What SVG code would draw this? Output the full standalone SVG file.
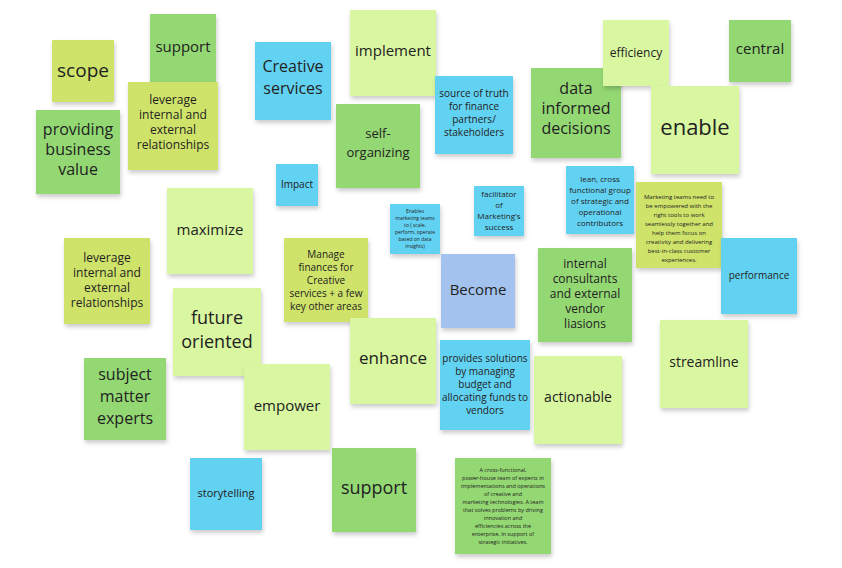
<svg xmlns="http://www.w3.org/2000/svg" width="842" height="568" viewBox="0 0 842 568">
<style>
text{font-family:"Open Sans","Liberation Sans",sans-serif;fill:#222;text-anchor:middle}
.l{fill:#cfe36b}.g{fill:#94d873}.p{fill:#d9f7a0}.b{fill:#62d2f2}.v{fill:#a3c3ee}
rect{filter:url(#sh)}
</style>
<defs><filter id="sh" x="-10%" y="-10%" width="125%" height="130%"><feDropShadow dx="1" dy="3" stdDeviation="2" flood-color="#000" flood-opacity="0.2"/></filter></defs>
<rect width="842" height="568" fill="#fff" style="filter:none"/>
<g id="n1"><rect class="l" x="52" y="40" width="62" height="62"/><text x="83" y="77" font-size="19">scope</text></g>
<g id="n2"><rect class="g" x="150" y="14" width="66" height="68"/><text x="183" y="52" font-size="15">support</text></g>
<g id="n3"><rect class="l" x="128" y="82" width="90" height="88"/><text font-size="12"><tspan x="173" y="104">leverage</tspan><tspan x="173" y="119">internal and</tspan><tspan x="173" y="134">external</tspan><tspan x="173" y="149">relationships</tspan></text></g>
<g id="n4"><rect class="g" x="36" y="110" width="84" height="84"/><text font-size="16"><tspan x="78" y="135">providing</tspan><tspan x="78" y="155">business</tspan><tspan x="78" y="175">value</tspan></text></g>
<g id="n5"><rect class="b" x="255" y="42" width="76" height="78"/><text font-size="16"><tspan x="293" y="72">Creative</tspan><tspan x="293" y="94">services</tspan></text></g>
<g id="n6"><rect class="p" x="350" y="10" width="86" height="86"/><text x="393" y="56" font-size="15">implement</text></g>
<g id="n7"><rect class="g" x="336" y="104" width="84" height="84"/><text font-size="13"><tspan x="378" y="138">self-</tspan><tspan x="378" y="157">organizing</tspan></text></g>
<g id="n8"><rect class="b" x="435" y="76" width="78" height="78"/><text font-size="10"><tspan x="474" y="97">source of truth</tspan><tspan x="474" y="110">for finance</tspan><tspan x="474" y="123">partners/</tspan><tspan x="474" y="136">stakeholders</tspan></text></g>
<g id="n9"><rect class="g" x="531" y="68" width="90" height="90"/><text font-size="16"><tspan x="576" y="94">data</tspan><tspan x="576" y="114">informed</tspan><tspan x="576" y="134">decisions</tspan></text></g>
<g id="n10"><rect class="p" x="603" y="20" width="66" height="66"/><text x="636" y="57" font-size="12">efficiency</text></g>
<g id="n11"><rect class="g" x="729" y="20" width="62" height="62"/><text x="760" y="54" font-size="15">central</text></g>
<g id="n12"><rect class="p" x="651" y="86" width="88" height="88"/><text x="695" y="135" font-size="22">enable</text></g>
<g id="n13"><rect class="b" x="276" y="164" width="42" height="42"/><text x="297" y="188" font-size="10">Impact</text></g>
<g id="n14"><rect class="b" x="390" y="204" width="50" height="50"/><text font-size="5"><tspan x="415" y="213">Enables</tspan><tspan x="415" y="220">marketing teams</tspan><tspan x="415" y="227">to ( scale,</tspan><tspan x="415" y="234">perform, operate</tspan><tspan x="415" y="241">based on data</tspan><tspan x="415" y="248">insights)</tspan></text></g>
<g id="n15"><rect class="b" x="474" y="186" width="50" height="50"/><text font-size="8"><tspan x="499" y="197">facilitator</tspan><tspan x="499" y="208">of</tspan><tspan x="499" y="219">Marketing's</tspan><tspan x="499" y="230">success</tspan></text></g>
<g id="n16"><rect class="b" x="566" y="166" width="68" height="68"/><text font-size="8"><tspan x="600" y="182">lean, cross</tspan><tspan x="600" y="193">functional group</tspan><tspan x="600" y="204">of strategic and</tspan><tspan x="600" y="215">operational</tspan><tspan x="600" y="226">contributors</tspan></text></g>
<g id="n17"><rect class="l" x="636" y="182" width="86" height="86"/><text font-size="6"><tspan x="679" y="199">Marketing teams need to</tspan><tspan x="679" y="208">be empowered with the</tspan><tspan x="679" y="217">right tools to work</tspan><tspan x="679" y="226">seamlessly together and</tspan><tspan x="679" y="235">help them focus on</tspan><tspan x="679" y="244">creativity and delivering</tspan><tspan x="679" y="253">best-in-class customer</tspan><tspan x="679" y="262">experiences.</tspan></text></g>
<g id="n18"><rect class="p" x="167" y="188" width="86" height="86"/><text x="210" y="235" font-size="15">maximize</text></g>
<g id="n19"><rect class="l" x="64" y="238" width="86" height="86"/><text font-size="12"><tspan x="107" y="262">leverage</tspan><tspan x="107" y="277">internal and</tspan><tspan x="107" y="292">external</tspan><tspan x="107" y="307">relationships</tspan></text></g>
<g id="n20"><rect class="l" x="284" y="238" width="84" height="84"/><text font-size="10"><tspan x="326" y="258">Manage</tspan><tspan x="326" y="271">finances for</tspan><tspan x="326" y="284">Creative</tspan><tspan x="326" y="297">services + a few</tspan><tspan x="326" y="310">key other areas</tspan></text></g>
<g id="n21"><rect class="v" x="441" y="254" width="74" height="74"/><text x="478" y="295" font-size="15">Become</text></g>
<g id="n22"><rect class="g" x="538" y="248" width="94" height="94"/><text font-size="12"><tspan x="585" y="268">internal</tspan><tspan x="585" y="283">consultants</tspan><tspan x="585" y="298">and external</tspan><tspan x="585" y="313">vendor</tspan><tspan x="585" y="328">liasions</tspan></text></g>
<g id="n23"><rect class="b" x="721" y="238" width="76" height="76"/><text x="759" y="279" font-size="10">performance</text></g>
<g id="n24"><rect class="p" x="173" y="288" width="88" height="88"/><text font-size="18"><tspan x="217" y="324">future</tspan><tspan x="217" y="348">oriented</tspan></text></g>
<g id="n25"><rect class="p" x="350" y="318" width="86" height="86"/><text x="393" y="364" font-size="17">enhance</text></g>
<g id="n26"><rect class="b" x="440" y="340" width="90" height="90"/><text font-size="10"><tspan x="485" y="362">provides solutions</tspan><tspan x="485" y="375">by managing</tspan><tspan x="485" y="388">budget and</tspan><tspan x="485" y="401">allocating funds to</tspan><tspan x="485" y="414">vendors</tspan></text></g>
<g id="n27"><rect class="p" x="660" y="320" width="88" height="88"/><text x="704" y="367" font-size="14">streamline</text></g>
<g id="n28"><rect class="g" x="84" y="358" width="82" height="82"/><text font-size="16"><tspan x="125" y="380">subject</tspan><tspan x="125" y="402">matter</tspan><tspan x="125" y="424">experts</tspan></text></g>
<g id="n29"><rect class="p" x="244" y="364" width="86" height="86"/><text x="287" y="411" font-size="15">empower</text></g>
<g id="n30"><rect class="p" x="534" y="356" width="88" height="88"/><text x="578" y="402" font-size="14">actionable</text></g>
<g id="n31"><rect class="b" x="190" y="458" width="72" height="72"/><text x="226" y="497" font-size="11">storytelling</text></g>
<g id="n32"><rect class="g" x="332" y="448" width="84" height="84"/><text x="374" y="494" font-size="18">support</text></g>
<g id="n33"><rect class="g" x="455" y="458" width="96" height="96"/><text font-size="5.5"><tspan x="503" y="472">A cross-functional,</tspan><tspan x="503" y="480">power-house team of experts in</tspan><tspan x="503" y="488">implementations and operations</tspan><tspan x="503" y="496">of creative and</tspan><tspan x="503" y="504">marketing technologies. A team</tspan><tspan x="503" y="512">that solves problems by driving</tspan><tspan x="503" y="520">innovation and</tspan><tspan x="503" y="528">efficiencies across the</tspan><tspan x="503" y="536">enterprise, in support of</tspan><tspan x="503" y="544">strategic initiatives.</tspan></text></g>
<g id="connectors"></g>
</svg>
